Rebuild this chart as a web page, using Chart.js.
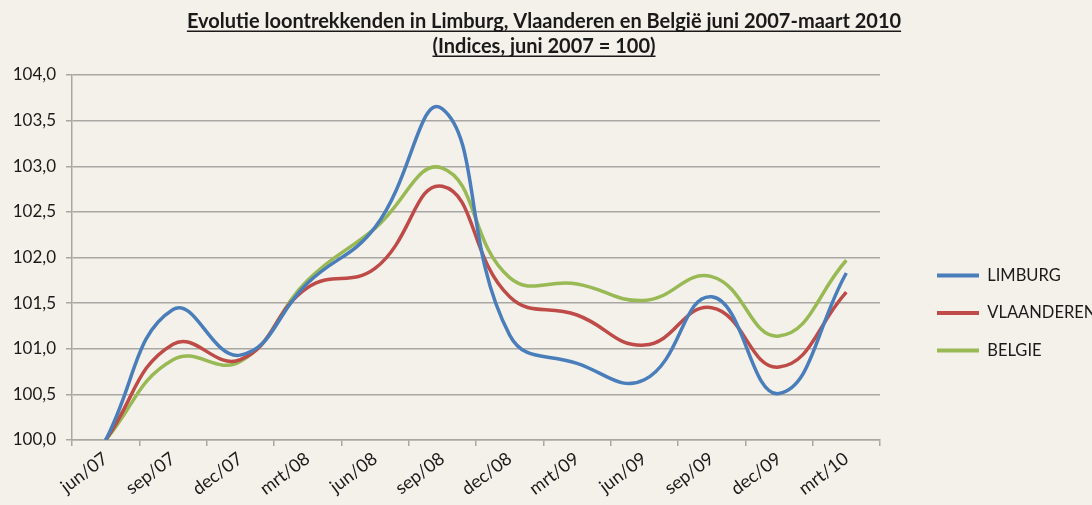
<!DOCTYPE html>
<html><head><meta charset="utf-8">
<script src="https://cdn.jsdelivr.net/npm/chart.js@4/dist/chart.umd.min.js"></script>
<style>html,body{margin:0;padding:0;background:#f4f1ea;overflow:hidden}</style>
</head><body>
<canvas id="c" width="1092" height="505"></canvas>
<script>
const titleLines = ['Evolutie loontrekkenden in Limburg, Vlaanderen en België juni 2007-maart 2010', '(Indices, juni 2007 = 100)'];
const categories = ['jun/07','sep/07','dec/07','mrt/08','jun/08','sep/08','dec/08','mrt/09','jun/09','sep/09','dec/09','mrt/10'];
const seriesNames = ['LIMBURG','VLAANDEREN','BELGIE'];
const limburg    = [100, 101.43, 100.93, 101.72, 102.33, 103.63, 101.15, 100.84, 100.66, 101.57, 100.51, 101.83];
const vlaanderen = [100, 101.05, 100.88, 101.67, 101.88, 102.78, 101.57, 101.37, 101.04, 101.45, 100.80, 101.62];
const belgie     = [100, 100.88, 100.86, 101.75, 102.32, 102.98, 101.78, 101.71, 101.53, 101.79, 101.14, 101.97];
const yMin = 100, yMax = 104, yStep = 0.5;
const colors = ['#4a7ebb', '#be4b48', '#98b954'];

const FONT = 'Lato, "Open Sans", sans-serif';
const BG = '#f4f1ea';
const GRID = '#a9a7a3';

const bgPlugin = {id:'bg', beforeDraw(c){const ctx=c.ctx; ctx.save(); ctx.fillStyle=BG; ctx.fillRect(0,0,c.width,c.height); ctx.restore();}};
const titlePlugin = {id:'utitle', afterDraw(c){
  const ctx=c.ctx; ctx.save();
  ctx.font='bold 20px '+FONT; ctx.fillStyle='#1a1a1a'; ctx.textAlign='center'; ctx.textBaseline='alphabetic';
  const cx=544, ys=[28,53];
  titleLines.forEach((t,i)=>{ ctx.fillText(t,cx,ys[i]); const w=ctx.measureText(t).width; ctx.fillRect(cx-w/2, ys[i]+2.5, w, 1.5); });
  ctx.restore();
}};

const datasets = [limburg, vlaanderen, belgie].map((d,i)=>({
  label: seriesNames[i], data: d, borderColor: colors[i], backgroundColor: colors[i],
  borderWidth: 3.5, pointRadius: 0, tension: 0.45, fill: false
}));

new Chart(document.getElementById('c'), {
  type: 'line',
  data: { labels: categories, datasets },
  plugins: [bgPlugin, titlePlugin],
  options: {
    responsive: false, animation: false, devicePixelRatio: 1,
    layout: { padding: { top: 75, left: 0, right: 0, bottom: 0 } },
    plugins: {
      tooltip: { enabled: false },
      title: { display: false },
      legend: {
        position: 'right', align: 'center', fullSize: false, maxWidth: 176,
        title: { display: true, text: ' ', font: { size: 10 }, padding: { top: 99, bottom: 0 } },
        labels: {
          boxWidth: 42, boxHeight: 4, padding: 21, color: '#1a1a1a',
          font: { size: 16.5, family: FONT },
          generateLabels: (chart) => Chart.defaults.plugins.legend.labels.generateLabels(chart).map(l => ({...l, lineWidth: 0}))
        }
      }
    },
    scales: {
      x: {
        type: 'category', offset: true,
        grid: { display: true, drawOnChartArea: false, offset: true, tickLength: 6, color: GRID, lineWidth: 1.5 },
        border: { color: GRID, width: 1.5 },
        ticks: { minRotation: 37, maxRotation: 37, color: '#1a1a1a', font: { size: 18, family: FONT }, padding: 2 },
        afterFit: (s) => { s.height = 65; }
      },
      y: {
        min: yMin, max: yMax,
        ticks: { stepSize: yStep, color: '#1a1a1a', font: { size: 17, family: FONT }, padding: 10,
                 callback: (v) => v.toFixed(1).replace('.', ',') },
        grid: { color: GRID, lineWidth: 1.5, tickLength: 6 },
        border: { color: GRID, width: 1.5 },
        afterFit: (s) => { s.width = 72; }
      },
      spacer: {
        type: 'linear', position: 'right', display: true,
        ticks: { display: false }, grid: { display: false }, border: { display: false },
        afterFit: (s) => { s.width = 36; }
      }
    }
  }
});
</script>
</body></html>
